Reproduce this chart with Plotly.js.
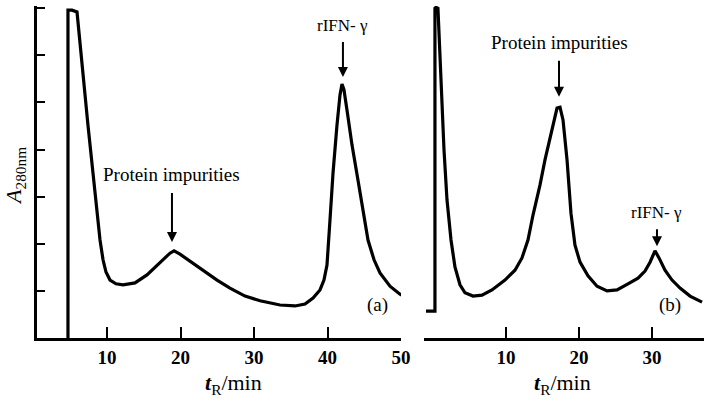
<!DOCTYPE html>
<html>
<head>
<meta charset="utf-8">
<script src="https://cdn.plot.ly/plotly-3.0.1.min.js"></script>
<style>html,body{margin:0;padding:0;background:#fff;}#chart{width:704px;height:401px;}</style>
</head>
<body>
<div id="chart"></div>
<script>
// Panel (a) chromatogram: retention time (min) and A280 (arbitrary units, 1 per y tick)
const aTime = [4.69, 4.69, 5.24, 5.92, 7.41, 9.05, 9.46, 9.86, 10.41, 11.22, 12.18, 13.81, 15.44, 16.80, 17.89, 18.57, 19.12, 19.93, 21.29, 22.65, 24.97, 26.73, 28.78, 30.82, 33.54, 35.58, 36.94, 38.03, 38.98, 39.52, 39.93, 40.34, 40.75, 41.29, 41.70, 41.97, 42.24, 42.65, 43.33, 44.15, 44.83, 45.51, 46.33, 47.14, 48.50, 49.86, 50.82];
const aSignal = [0, 6.96, 6.96, 6.92, 4.52, 2.08, 1.66, 1.40, 1.23, 1.15, 1.13, 1.17, 1.34, 1.53, 1.70, 1.80, 1.85, 1.78, 1.63, 1.49, 1.23, 1.06, 0.89, 0.79, 0.70, 0.68, 0.72, 0.85, 1.02, 1.23, 1.55, 2.51, 3.50, 4.52, 5.16, 5.39, 5.27, 4.84, 4.10, 3.35, 2.72, 2.08, 1.66, 1.38, 1.10, 0.93, 0.85];

// Panel (b) chromatogram
const bTime = [-0.96, 0.27, 0.27, 0.41, 0.68, 0.96, 1.23, 1.51, 1.92, 2.47, 3.01, 3.70, 4.38, 5.48, 6.71, 8.08, 9.86, 11.23, 12.19, 13.01, 13.70, 14.66, 15.34, 16.44, 16.99, 17.40, 17.81, 18.36, 18.90, 19.45, 20.14, 21.23, 22.47, 23.84, 25.21, 26.71, 28.08, 29.04, 29.73, 30.41, 30.96, 31.78, 32.74, 33.84, 35.21, 36.85];
const bSignal = [0.57, 0.57, 7.0, 7.02, 7.0, 5.90, 5.05, 3.99, 2.93, 2.08, 1.51, 1.13, 0.96, 0.89, 0.91, 1.02, 1.23, 1.44, 1.70, 2.08, 2.61, 3.25, 3.78, 4.52, 4.88, 4.90, 4.63, 3.78, 2.65, 1.97, 1.61, 1.32, 1.10, 1.00, 1.02, 1.15, 1.27, 1.42, 1.61, 1.85, 1.70, 1.44, 1.23, 1.06, 0.89, 0.76];

const xTicksA = [10, 20, 30, 40, 50];
const xTicksB = [10, 20, 30];
const yTicks = [1, 2, 3, 4, 5, 6, 7];

// peak labels: arrow head position (time, signal)
const peakLabelsA = [{text: 'Protein impurities', t: 18.84, s: 2.04, ay: -67, size: 19}, {text: 'rIFN- γ', t: 42.1, s: 5.54, ay: -52, size: 17}];
const peakLabelsB = [{text: 'Protein impurities', t: 17.26, s: 5.12, ay: -54, size: 19}, {text: 'rIFN- γ', t: 30.68, s: 1.95, ay: -34, size: 17}];

const FONT = 'Liberation Serif';
const W = 704, H = 401;
const px = v => v / W;
const py = v => 1 - v / H;

const traces = [
  {x: aTime, y: aSignal, xaxis: 'x', yaxis: 'y', mode: 'lines', line: {color: '#000', width: 3.2}, hoverinfo: 'skip', showlegend: false},
  {x: bTime, y: bSignal, xaxis: 'x2', yaxis: 'y2', mode: 'lines', line: {color: '#000', width: 3.2}, hoverinfo: 'skip', showlegend: false}
];

const baseX = {
  ticks: 'inside', ticklen: 11, tickwidth: 2, tickcolor: '#000',
  showgrid: false, zeroline: false, automargin: false,
  showline: true, linecolor: '#000', linewidth: 2.8,
  tickfont: {family: FONT, size: 19, color: '#000', weight: 'bold'}
};

function peakAnn(p, xr, yr) {
  return {xref: xr, yref: yr, x: p.t, y: p.s, ax: 0, ay: p.ay, text: p.text, showarrow: true,
    arrowhead: 2, arrowsize: 1, arrowwidth: 2, arrowcolor: '#000', standoff: 0, startstandoff: 6,
    font: {family: FONT, size: p.size, color: '#000'}};
}

const annotations = [
  peakAnn(peakLabelsA[0], 'x', 'y'),
  peakAnn(peakLabelsA[1], 'x', 'y'),
  peakAnn(peakLabelsB[0], 'x2', 'y2'),
  peakAnn(peakLabelsB[1], 'x2', 'y2'),
  // panel tags
  {xref: 'paper', yref: 'paper', x: px(377), y: py(318), text: '(a)', showarrow: false, font: {family: FONT, size: 19, color: '#000'}},
  {xref: 'paper', yref: 'paper', x: px(683), y: py(318), text: '(b)', showarrow: false, font: {family: FONT, size: 19, color: '#000'}},
  // axis titles
  {xref: 'paper', yref: 'paper', x: px(233), y: py(384), text: '<b><i>t</i></b><sub>R</sub>/min', showarrow: false, font: {family: FONT, size: 22, color: '#000'}, xanchor: 'center', yanchor: 'middle'},
  {xref: 'paper', yref: 'paper', x: px(562), y: py(384), text: '<b><i>t</i></b><sub>R</sub>/min', showarrow: false, font: {family: FONT, size: 22, color: '#000'}, xanchor: 'center', yanchor: 'middle'},
  {xref: 'paper', yref: 'paper', x: px(15), y: py(176), text: '<i>A</i><sub>280nm</sub>', textangle: -90, showarrow: false, font: {family: FONT, size: 22, color: '#000'}, xanchor: 'center', yanchor: 'middle'}
];

const layout = {
  width: W, height: H,
  margin: {l: 0, r: 0, t: 0, b: 0},
  font: {family: FONT, color: '#000'},
  paper_bgcolor: '#fff', plot_bgcolor: 'rgba(0,0,0,0)',
  showlegend: false,
  xaxis: Object.assign({}, baseX, {domain: [37 / W, 401 / W], range: [0.476, 50.0], tickvals: xTicksA, ticktext: xTicksA.map(String), anchor: 'y'}),
  xaxis2: Object.assign({}, baseX, {domain: [424 / W, 1], range: [-1.23, 37.12], tickvals: xTicksB, ticktext: xTicksB.map(String), anchor: 'y2'}),
  yaxis: {domain: [(H - 338) / H, (H - 5.9) / H], range: [0, 7.05], tickvals: yTicks, showticklabels: false, ticks: 'inside', ticklen: 8, tickwidth: 2, tickcolor: '#000', showline: true, linecolor: '#000', linewidth: 2.8, showgrid: false, zeroline: false, anchor: 'x', automargin: false},
  yaxis2: {domain: [(H - 338) / H, (H - 5.9) / H], range: [0, 7.05], visible: false, anchor: 'x2'},
  annotations: annotations
};

Plotly.newPlot('chart', traces, layout, {staticPlot: true, displayModeBar: false});
</script>
</body>
</html>
